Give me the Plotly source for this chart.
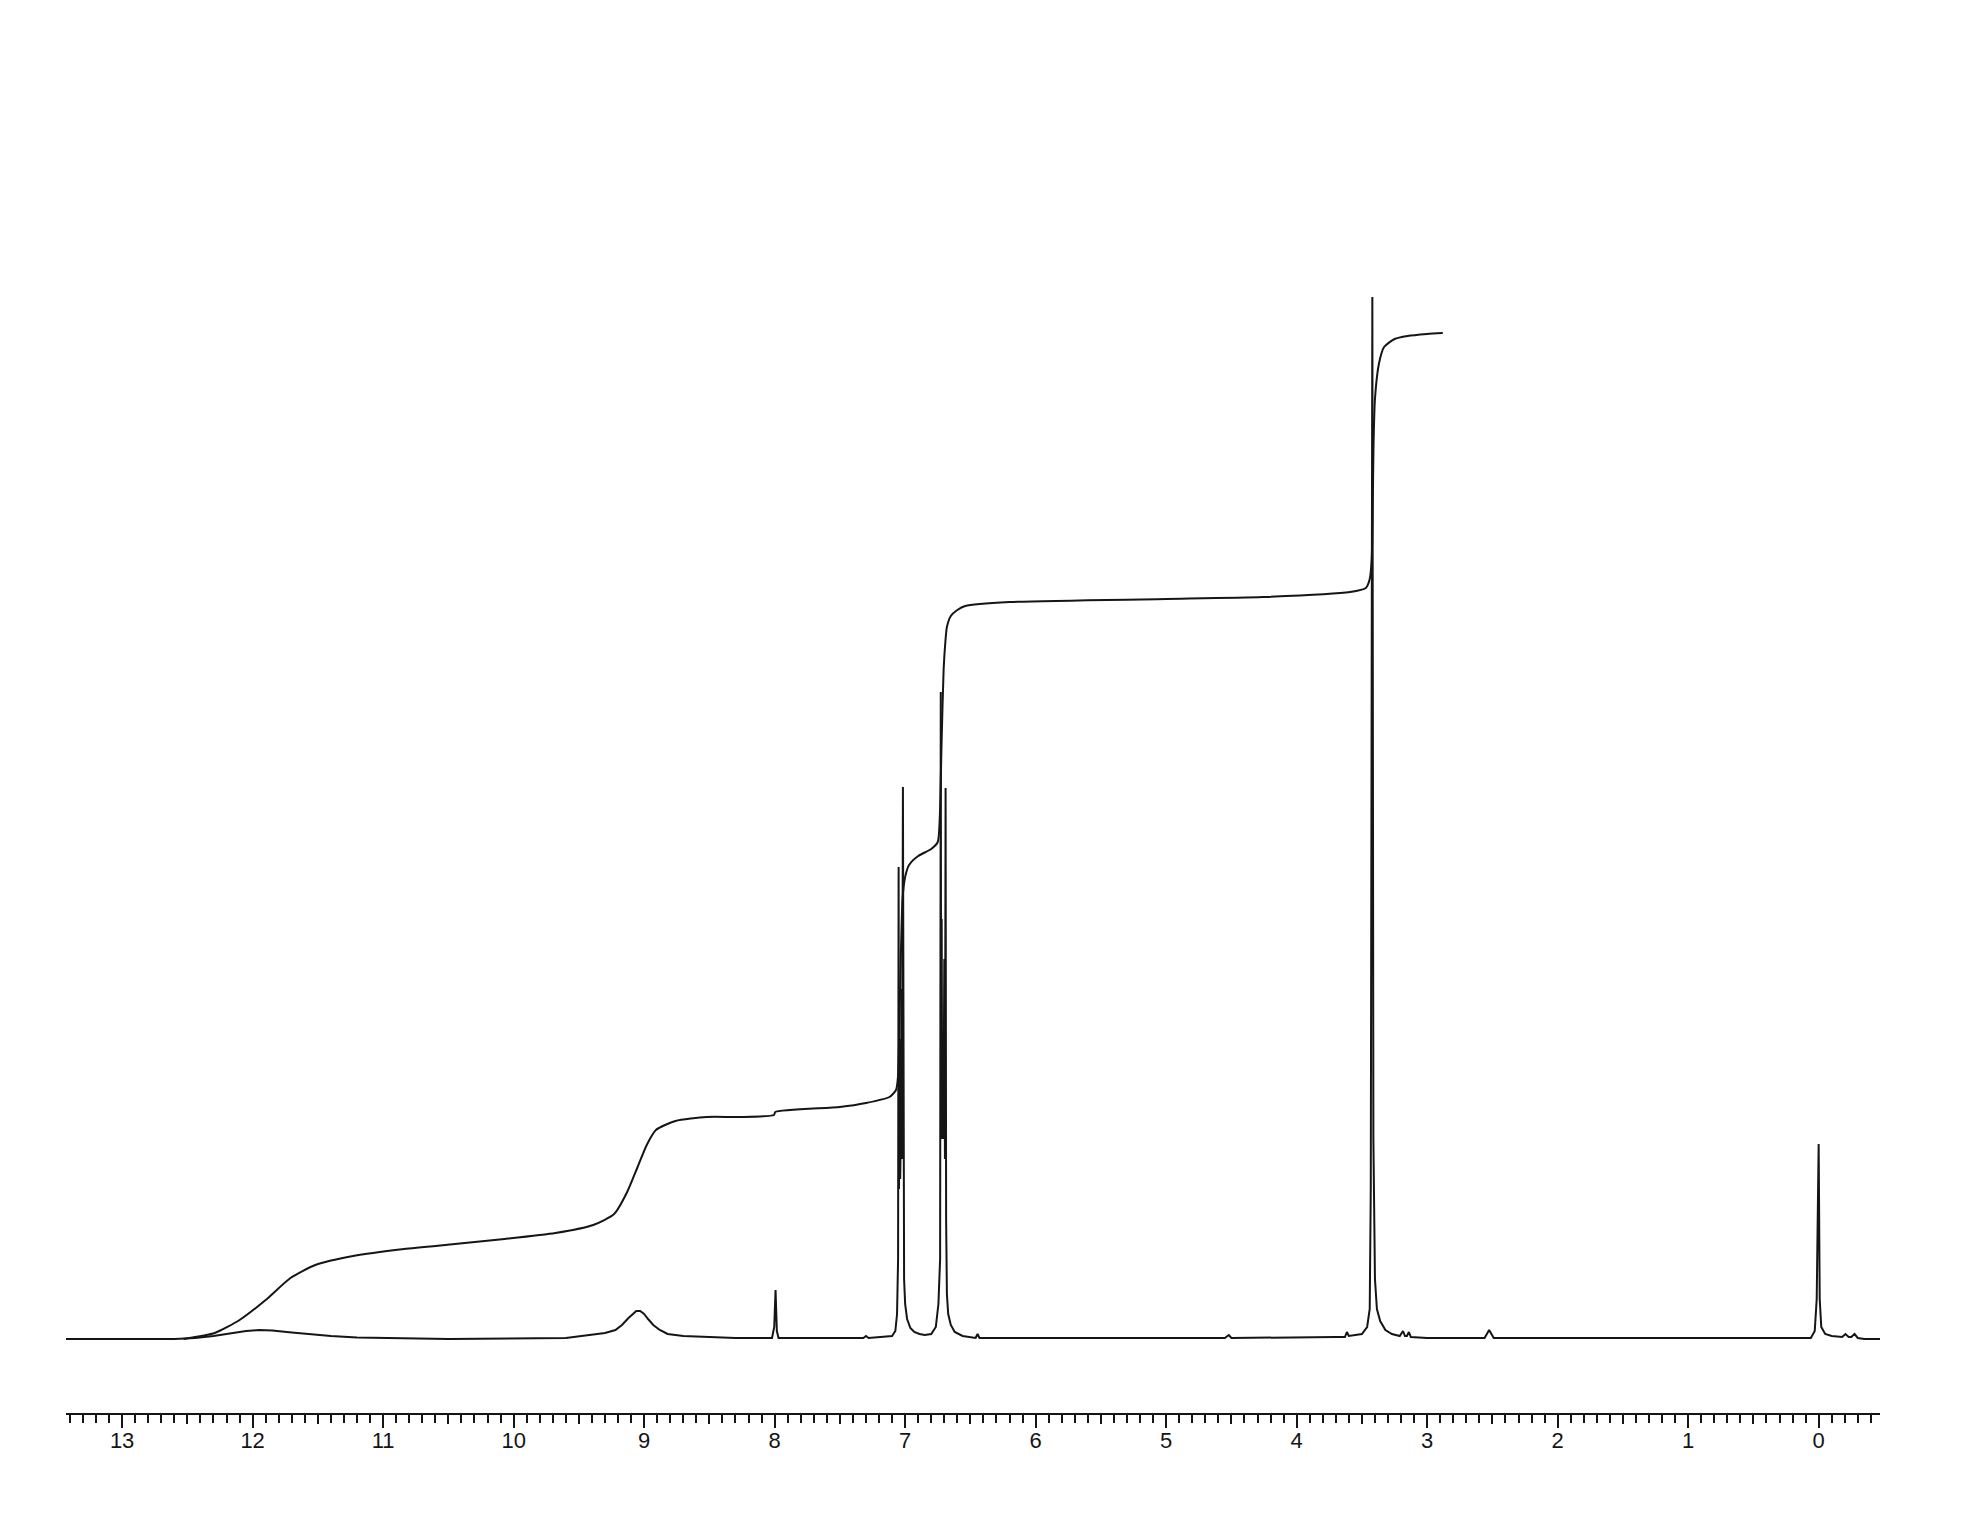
import plotly.graph_objects as go

# ---- data (ppm, height above baseline in px units) ----
spec_ppm = [13.43, 12.60, 12.44, 12.30, 12.15, 12.05, 11.95, 11.85, 11.70, 11.55,
            11.40, 11.20, 11.00, 10.50, 9.60, 9.40, 9.30, 9.22, 9.17, 9.12,
            9.09, 9.06, 9.03, 9.00, 8.97, 8.93, 8.88, 8.82, 8.70, 8.55,
            8.30, 8.02, 8.003, 7.993, 7.983, 7.97, 7.32, 7.30, 7.28, 7.10,
            7.075, 7.062, 7.054, 7.050, 7.047, 7.043, 7.038, 7.033, 7.028, 7.024,
            7.017, 7.013, 7.008, 7.000, 6.985, 6.96, 6.93, 6.89, 6.85, 6.80,
            6.765, 6.745, 6.732, 6.727, 6.724, 6.720, 6.716, 6.710, 6.706, 6.700,
            6.695, 6.690, 6.686, 6.680, 6.670, 6.65, 6.62, 6.56, 6.46, 6.445,
            6.43, 6.00, 4.55, 4.52, 4.50, 3.70, 3.63, 3.615, 3.60, 3.50,
            3.46, 3.44, 3.432, 3.420, 3.412, 3.400, 3.385, 3.36, 3.32, 3.27,
            3.21, 3.185, 3.17, 3.155, 3.14, 3.125, 3.00, 2.56, 2.525, 2.49,
            0.06, 0.03, 0.015, 0.000, -0.008, -0.02, -0.05, -0.10, -0.18, -0.205,
            -0.23, -0.25, -0.275, -0.30, -0.35, -0.47]
spec_int = [0, 0, 1, 3, 6, 8, 9, 8.5, 6.5, 4.5,
            3, 1.5, 1, 0, 1, 4, 6, 9, 14, 21,
            25, 28, 28, 25, 20, 14, 9, 5, 3, 2,
            1, 1, 12, 49, 8, 1, 1, 3, 1, 3,
            8, 25, 80, 472, 150, 300, 160, 200, 350, 180,
            552, 120, 60, 35, 20, 11, 7, 5, 4, 5,
            12, 35, 80, 647, 220, 420, 200, 300, 200, 380,
            180, 551, 120, 45, 25, 14, 7, 3, 1, 5,
            1, 1, 1, 4, 1, 2, 2, 7, 3, 5,
            12, 30, 150, 1042, 200, 60, 30, 18, 9, 5,
            3, 8, 3, 3, 7, 2, 1, 1, 9, 1,
            1, 8, 40, 195, 40, 12, 5, 3, 2, 5,
            2, 2, 5, 1, 0, 0]

integ_ppm = [12.53, 12.29, 12.10, 11.90, 11.71, 11.52, 11.23, 10.84, 10.45, 10.07,
             9.68, 9.39, 9.23, 9.13, 9.05, 8.98, 8.91, 8.76, 8.52, 8.27,
             8.005, 7.995, 7.50, 7.30, 7.12, 7.07, 7.055, 7.04, 7.02, 7.00,
             6.97, 6.90, 6.80, 6.75, 6.735, 6.72, 6.705, 6.69, 6.68, 6.65,
             6.60, 6.54, 6.20, 5.00, 4.26, 3.59, 3.47, 3.44, 3.425, 3.41,
             3.40, 3.37, 3.33, 3.25, 3.15, 3.00, 2.88]
integ_val = [0, 6, 19, 39, 61, 74, 83, 90, 95, 100,
             106, 114, 125, 147, 172, 194, 209, 218, 222, 222,
             224, 227, 232, 236, 242, 249, 262, 340, 440, 462,
             474, 483, 490, 497, 520, 600, 670, 700, 712, 723,
             729, 733, 737, 740, 742, 747, 751, 760, 780, 900,
             940, 975, 992, 1000, 1003, 1005, 1006]

major_ticks = [13, 12, 11, 10, 9, 8, 7, 6, 5, 4, 3, 2, 1, 0]
major_labels = [str(v) for v in major_ticks]
half_ticks = [12.5, 11.5, 10.5, 9.5, 8.5, 7.5, 6.5, 5.5, 4.5, 3.5, 2.5, 1.5, 0.5, -0.5]

X_RANGE = [13.43, -0.47]
Y_RANGE = [-74, 1139]
INK = "#151515"
FONT = "Liberation Sans, Arial, sans-serif"

fig = go.Figure()
fig.add_trace(go.Scatter(x=spec_ppm, y=spec_int, mode="lines",
                         line=dict(color=INK, width=2), hoverinfo="skip",
                         showlegend=False))
fig.add_trace(go.Scatter(x=integ_ppm, y=integ_val, mode="lines",
                         line=dict(color=INK, width=2, shape="spline", smoothing=0.6),
                         hoverinfo="skip", showlegend=False))
# dummy trace so the overlaid half-ppm tick axis is drawn
fig.add_trace(go.Scatter(x=[None], y=[None], xaxis="x2", yaxis="y",
                         showlegend=False, hoverinfo="skip"))

fig.update_layout(
    width=1963, height=1508, autosize=False,
    margin=dict(l=58, r=91, t=192, b=103),
    paper_bgcolor="white", plot_bgcolor="white",
    font=dict(family=FONT, color=INK),
    xaxis=dict(range=X_RANGE, tickmode="array", tickvals=major_ticks,
               ticktext=major_labels, ticks="outside", ticklen=13, tickwidth=2,
               tickcolor=INK, showline=True, linecolor=INK, linewidth=2,
               showgrid=False, zeroline=False, ticklabelstandoff=-6,
               tickfont=dict(size=22, color=INK, family=FONT),
               minor=dict(dtick=0.1, tick0=0, ticks="outside", ticklen=8,
                          tickwidth=2, tickcolor=INK, showgrid=False)),
    xaxis2=dict(range=X_RANGE, overlaying="x", anchor="y", side="bottom",
                tickmode="array", tickvals=half_ticks, ticks="outside",
                ticklen=10, tickwidth=2, tickcolor=INK, showticklabels=False,
                showline=False, showgrid=False, zeroline=False),
    yaxis=dict(range=Y_RANGE, visible=False, showgrid=False, zeroline=False),
)

fig.write_html("out.html")
